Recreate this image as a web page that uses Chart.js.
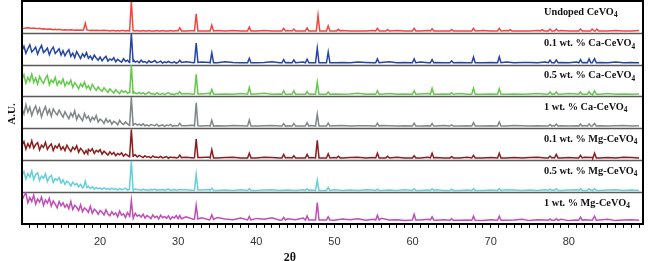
<!DOCTYPE html>
<html>
<head>
<meta charset="utf-8">
<script src="https://cdn.jsdelivr.net/npm/chart.js@4.4.0/dist/chart.umd.min.js"></script>
<style>
  html, body { margin: 0; padding: 0; background: #fff; }
  #wrap { width: 649px; height: 261px; }
</style>
</head>
<body>
<div id="wrap"><canvas id="xrd"></canvas></div>
<script>
// 2θ grid for the background of every pattern
const twoTheta = [
  10,10.25,10.5,10.75,11,11.25,11.5,11.75,12,12.25,12.5,12.75,13,13.25,13.5,13.75,14,14.25,14.5,14.75,15,
  15.25,15.5,15.75,16,16.25,16.5,16.75,17,17.25,17.5,17.75,18,18.25,18.5,18.75,19,19.25,19.5,19.75,20,
  20.25,20.5,20.75,21,21.25,21.5,21.75,22,22.25,22.5,22.75,23,23.25,23.5,23.75,24,24.25,24.5,24.75,25,
  25.25,25.5,25.75,26,26.25,26.5,26.75,27,27.25,27.5,27.75,28,28.25,28.5,28.75,29,29.25,29.5,29.75,30,
  31,32,33,34,35,36,37,38,39,40,41,42,43,44,45,46,47,48,49,50,51,52,53,54,55,56,57,58,59,
  60,61,62,63,64,65,66,67,68,69,70,71,72,73,74,75,76,77,78,79,80,81,82,83,84,85,86,87,88,89];

// background intensity (0-100 of each panel) on the twoTheta grid
const undopedBase = [
  13,14,15,16,15,14,15,14,13,14,12,13,12,11,12,11,10,11,10,11,10,
  9,10,9,9,10,9,8,9,8,9,8,8,9,8,7,8,7,8,7,7,
  7,8,7,7,6,7,7,6,7,6,7,7,6,7,6,6,7,6,7,6,
  6,7,6,6,7,6,6,6,7,6,6,7,6,6,6,7,6,6,7,6,
  6,7,6,6,7,6,7,6,6,6,7,6,6,7,6,6,6,7,6,6,7,6,6,6,7,6,6,7,6,6,
  6,7,6,6,7,6,6,6,7,6,6,7,6,6,6,7,6,6,7,6,6,6,7,6,6,7,6,6,7];
const ca01Base = [
  44,58,36,50,62,40,47,55,33,49,60,38,44,52,31,46,55,35,42,50,30,
  44,28,39,47,26,36,22,41,30,19,34,25,38,20,27,16,30,21,14,24,
  12,20,26,11,18,14,22,9,17,12,8,19,10,14,7,12,16,8,11,6,
  14,8,10,5,12,7,9,13,6,8,11,5,9,6,10,7,6,9,5,8,
  9,6,8,7,6,9,7,6,8,6,7,9,6,7,6,8,6,7,9,6,7,6,8,7,6,7,9,6,7,6,
  8,6,7,6,8,7,6,9,6,7,6,8,6,7,7,6,8,6,7,6,8,7,6,7,6,8,6,7,6];
const ca05Base = [
  55,68,42,60,48,70,45,58,39,63,50,41,57,66,37,52,44,60,36,49,40,
  55,33,46,38,51,29,43,35,24,40,31,45,26,34,21,38,28,19,30,22,
  16,27,20,13,24,17,11,21,15,9,19,13,17,10,14,8,16,11,9,13,
  8,12,7,10,14,8,9,6,11,8,7,10,6,9,12,7,8,6,10,7,
  9,7,8,10,7,8,7,9,7,8,10,7,8,7,9,7,8,7,9,8,7,8,10,7,8,7,9,7,8,7,
  8,9,7,8,7,9,7,8,7,8,9,7,8,7,8,9,7,8,7,9,8,7,8,7,9,7,8,7,8];
const ca1Base = [
  62,45,74,51,66,40,58,70,47,63,36,55,68,44,59,38,61,50,42,57,46,
  35,52,41,30,48,37,55,28,43,33,24,46,31,38,22,35,27,40,20,29,
  24,15,30,19,26,13,22,18,11,25,16,12,20,14,9,17,12,15,10,13,
  9,14,8,11,7,12,10,8,13,7,9,11,6,10,8,12,7,9,8,10,
  8,10,7,9,8,7,9,8,10,7,8,9,7,8,10,7,9,8,7,8,9,7,8,8,7,9,8,7,8,9,
  7,8,7,9,8,7,8,9,7,8,8,7,9,8,7,8,7,9,8,7,8,9,7,8,7,8,9,7,8];
const mg01Base = [
  46,58,35,52,40,61,38,49,55,32,47,40,56,34,44,51,30,45,38,50,33,
  42,30,47,36,27,41,33,45,25,37,30,39,23,34,28,36,21,31,26,33,
  19,28,22,16,26,18,24,14,21,17,23,12,19,15,11,20,14,17,10,15,
  12,8,14,9,11,7,13,9,10,8,12,7,9,11,6,10,8,9,7,10,
  9,7,8,10,7,8,9,7,8,7,9,8,7,8,9,7,8,7,9,8,7,8,9,7,8,7,8,9,7,8,
  7,9,8,7,8,7,9,8,7,8,9,7,8,7,8,9,7,8,7,8,7,9,8,7,8,7,9,8,7];
const mg05Base = [
  52,64,41,58,47,66,39,55,60,36,50,43,57,33,46,52,30,42,37,45,28,
  38,24,34,29,19,31,22,27,16,24,13,20,15,18,11,16,9,14,10,12,
  8,13,9,11,7,12,8,10,6,11,7,9,12,6,8,10,6,9,7,8,
  5,9,6,7,5,8,6,9,5,7,6,8,5,7,9,5,6,8,5,7,
  7,5,6,8,5,6,5,7,6,5,6,7,5,6,5,7,6,5,6,7,5,6,5,7,6,5,6,5,7,6,
  5,6,7,5,6,5,6,7,5,6,5,7,6,5,6,5,7,6,5,6,7,5,6,5,6,7,5,6,5];
const mg1Base = [
  74,88,97,66,82,70,90,62,78,68,84,58,75,65,80,56,72,62,50,70,57,
  66,52,61,48,70,45,58,52,42,60,38,50,44,36,55,33,46,40,30,42,
  36,28,44,31,25,38,29,34,22,40,27,31,20,35,26,30,19,33,24,28,
  21,30,18,26,22,16,28,20,24,15,27,19,23,17,25,14,22,18,26,16,
  22,14,19,12,20,15,13,18,11,17,14,19,11,16,13,18,12,15,17,11,15,13,16,11,14,17,12,13,10,15,
  12,14,11,13,16,11,12,14,10,13,15,11,12,14,10,13,12,11,14,10,12,13,11,12,14,10,12,13,11];

// reflections: [2θ, foot, top]
const undopedPeaks = [[18.1,9,30],[24.0,7,100],[30.2,6,16],[32.3,6,60],[34.3,6,24],[39.1,6,18],[43.5,6,14],[44.8,6,12],
  [46.5,6,15],[47.9,6,55],[49.2,6,22],[50.5,6,11],[55.5,6,14],[56.8,6,10],[60.2,6,14],[62.5,6,13],[65.0,6,10],
  [67.8,6,14],[71.1,6,14],[72.5,6,10],[76.6,6,10],[77.6,6,12],[78.4,6,12],[81.5,6,12],[83.0,6,12],[83.6,6,12]];
const ca01Peaks = [[24.0,10,98],[30.2,7,14],[32.3,7,68],[34.3,6,37],[39.1,6,20],[43.5,6,16],[44.8,6,15],[46.5,6,17],
  [47.8,6,52],[49.2,6,40],[55.5,6,18],[60.2,6,18],[62.5,6,16],[65.0,6,12],[67.8,6,24],[71.1,6,25],
  [77.6,6,14],[78.4,6,15],[81.5,6,16],[82.6,6,18],[83.3,6,19]];
const ca05Peaks = [[24.0,10,98],[30.2,8,15],[32.3,8,70],[34.3,7,22],[39.1,7,28],[43.5,7,18],[44.8,7,18],[46.5,7,15],
  [47.8,7,45],[49.2,7,14],[55.5,7,18],[60.2,7,18],[62.5,7,26],[65.0,7,12],[67.8,7,26],[71.1,7,24],
  [77.6,7,14],[78.4,7,14],[81.5,7,14],[82.6,7,15],[83.3,7,18]];
const ca1Peaks = [[24.0,10,98],[30.2,8,16],[32.3,8,80],[34.3,7,25],[39.1,7,26],[43.5,7,15],[44.8,7,15],[46.5,7,18],
  [47.8,7,45],[49.2,7,16],[55.5,7,16],[60.2,7,16],[62.5,7,15],[65.0,7,11],[67.8,7,18],[71.1,7,20],
  [77.6,7,12],[78.4,7,13],[81.5,7,13],[82.6,7,14],[83.3,7,15]];
const mg01Peaks = [[18.2,20,30],[24.0,12,96],[30.2,8,16],[32.3,8,66],[34.3,7,33],[39.1,7,22],[43.5,7,18],[44.8,7,14],
  [46.5,7,18],[47.8,7,62],[49.2,7,20],[50.5,7,12],[55.5,7,22],[56.8,7,12],[60.2,7,14],[62.5,7,22],[65.0,7,11],
  [67.8,7,15],[71.1,7,22],[77.6,7,13],[78.4,7,18],[81.5,7,15],[83.3,7,22]];
const mg05Peaks = [[18.1,14,34],[24.0,8,97],[32.3,6,55],[34.3,5,12],[39.1,5,10],[46.5,5,10],[47.8,5,37],[49.2,5,14],
  [55.5,5,9],[60.2,5,10],[62.5,5,10],[65.0,5,9],[67.8,5,10],[71.1,5,10],[77.6,5,9],[78.4,5,10],
  [81.5,5,10],[82.6,5,10],[83.3,5,10]];
const mg1Peaks = [[24.0,20,73],[30.2,16,26],[32.3,15,58],[34.3,14,28],[39.1,12,23],[43.5,12,20],[46.5,12,25],
  [47.8,12,67],[49.2,12,22],[55.5,12,27],[60.2,12,30],[62.5,12,22],[65.0,11,16],[67.8,11,24],[71.1,11,24],
  [77.6,11,15],[78.4,11,16],[81.5,11,21],[83.3,11,24]];

const panelNames = [
  ['Undoped CeVO', '4'],
  ['0.1 wt. % Ca-CeVO', '4'],
  ['0.5 wt. % Ca-CeVO', '4'],
  ['1 wt. % Ca-CeVO', '4'],
  ['0.1 wt. % Mg-CeVO', '4'],
  ['0.5 wt. % Mg-CeVO', '4'],
  ['1 wt. % Mg-CeVO', '4']
];
const panelColors = ['#f2463a', '#2445a6', '#63c94a', '#7e8787', '#8c1d1d', '#62d0da', '#c04db7'];
const panelBases = [undopedBase, ca01Base, ca05Base, ca1Base, mg01Base, mg05Base, mg1Base];
const panelPeaks = [undopedPeaks, ca01Peaks, ca05Peaks, ca1Peaks, mg01Peaks, mg05Peaks, mg1Peaks];

const xTickLabels = [20, 30, 40, 50, 60, 70, 80];

// merge background and reflections into one sorted point list
function buildPattern(base, peaks) {
  const pts = [];
  twoTheta.forEach((t, i) => {
    const nearPeak = peaks.some(p => Math.abs(p[0] - t) < 0.25);
    if (!nearPeak) pts.push({x: t, y: base[i]});
  });
  peaks.forEach(p => {
    pts.push({x: p[0] - 0.22, y: p[1]});
    pts.push({x: p[0], y: p[2]});
    pts.push({x: p[0] + 0.22, y: p[1]});
  });
  pts.sort((a, b) => a.x - b.x);
  return pts;
}

const datasets = panelNames.map((n, i) => ({
  label: n.join(''),
  data: buildPattern(panelBases[i], panelPeaks[i]),
  yAxisID: 'y' + i,
  borderColor: panelColors[i],
  borderWidth: 1.5,
  pointRadius: 0,
  fill: false,
  tension: 0
}));

const scales = {
  x: {
    type: 'linear',
    min: 10,
    max: 89.5,
    position: 'bottom',
    afterBuildTicks: s => {
      const t = [];
      for (let v = 11; v <= 89; v++) t.push({value: v});
      s.ticks = t;
    },
    ticks: {
      autoSkip: false,
      maxRotation: 0,
      padding: 8,
      color: '#333',
      font: {family: 'Liberation Sans', size: 11},
      callback: v => xTickLabels.includes(v) ? String(v) : ''
    },
    grid: {drawOnChartArea: false, drawTicks: true, tickLength: 4, color: '#000', lineWidth: 1},
    border: {color: '#000', width: 2}
  }
};
// stacked panels: the last one added ends up on top, so add them bottom first
for (let i = panelNames.length - 1; i >= 0; i--) {
  scales['y' + i] = {
    type: 'linear',
    display: false,
    position: 'left',
    stack: 'xrd',
    stackWeight: 1,
    min: 0,
    max: 100
  };
}

const panelDecor = {
  id: 'panelDecor',
  beforeDatasetsDraw(chart) {
    const {ctx, chartArea} = chart;
    ctx.save();
    ctx.strokeStyle = '#5a5a5a';
    ctx.lineWidth = 1.4;
    for (let i = 1; i < panelNames.length; i++) {
      const y = Math.round(chart.scales['y' + i].top) + 0.5;
      ctx.beginPath();
      ctx.moveTo(chartArea.left, y);
      ctx.lineTo(chartArea.right, y);
      ctx.stroke();
    }
    ctx.restore();
  },
  afterDatasetsDraw(chart) {
    const {ctx, chartArea} = chart;
    ctx.save();
    // frame
    ctx.strokeStyle = '#000';
    ctx.lineWidth = 2;
    ctx.beginPath();
    ctx.moveTo(chartArea.left, chartArea.bottom);
    ctx.lineTo(chartArea.left, chartArea.top);
    ctx.lineTo(chartArea.right, chartArea.top);
    ctx.lineTo(chartArea.right, chartArea.bottom);
    ctx.stroke();

    // panel labels, all starting at the same x
    ctx.fillStyle = '#111';
    ctx.textBaseline = 'middle';
    ctx.textAlign = 'left';
    const x0 = chartArea.right - 99;
    panelNames.forEach((n, i) => {
      const y = chart.scales['y' + i].top + 11;
      ctx.font = 'bold 10.3px "Liberation Serif"';
      const w1 = ctx.measureText(n[0]).width;
      ctx.fillText(n[0], x0, y);
      ctx.font = 'bold 7.3px "Liberation Serif"';
      ctx.fillText(n[1], x0 + w1, y + 3);
    });

    // axis titles
    ctx.font = 'bold 11px "Liberation Serif"';
    ctx.textAlign = 'center';
    ctx.save();
    ctx.translate(12, 114);
    ctx.rotate(-Math.PI / 2);
    ctx.fillText('A.U.', 0, 0);
    ctx.restore();
    ctx.font = 'bold 12px "Liberation Serif"';
    ctx.textBaseline = 'top';
    ctx.fillText('2θ', 290, 252);
    ctx.restore();
  }
};

new Chart(document.getElementById('xrd'), {
  type: 'line',
  data: {datasets: datasets},
  options: {
    responsive: true,
    maintainAspectRatio: false,
    animation: false,
    devicePixelRatio: 1,
    layout: {padding: {left: 22, right: 6, top: 1, bottom: 4}},
    plugins: {legend: {display: false}, tooltip: {enabled: false}},
    scales: scales
  },
  plugins: [panelDecor]
});
</script>
</body>
</html>
